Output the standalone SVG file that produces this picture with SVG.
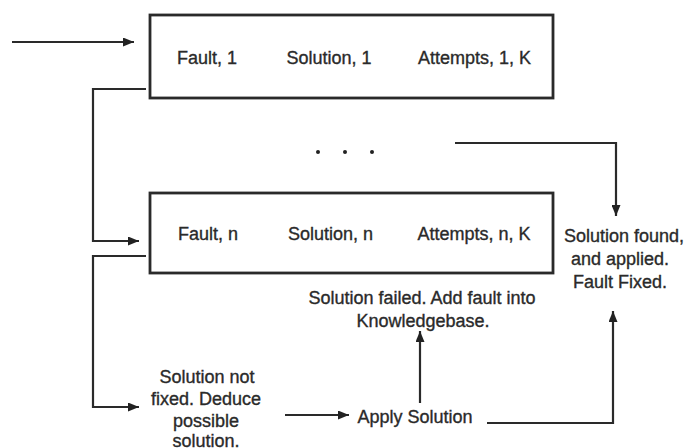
<svg xmlns="http://www.w3.org/2000/svg" width="688" height="448" viewBox="0 0 688 448">
  <style>
    .box { fill: #ffffff; stroke: #2a2a2a; stroke-width: 2.8; }
    .wire { fill: none; stroke: #2a2a2a; stroke-width: 2.2; }
    .lbl { font-family: "Liberation Sans", Arial, sans-serif; font-size: 18px; fill: #2a2a2a; stroke: #2a2a2a; stroke-width: 0.35; text-anchor: middle; }
    .dot { fill: #222222; }
  </style>
  <defs>
    <marker id="head" viewBox="0 0 11 9" refX="11" refY="4.5" markerWidth="11" markerHeight="9" markerUnits="userSpaceOnUse" orient="auto">
      <path d="M0,0 L11,4.5 L0,9 Z" fill="#222222"/>
    </marker>
  </defs>

  <!-- first record -->
  <g id="record-1">
    <rect class="box" x="150" y="15" width="403" height="83"/>
    <text class="lbl" x="207" y="63.5">Fault, 1</text>
    <text class="lbl" x="329" y="63.5">Solution, 1</text>
    <text class="lbl" x="474.5" y="63.5">Attempts, 1, K</text>
  </g>

  <!-- ellipsis between records -->
  <g id="ellipsis">
    <circle class="dot" cx="318" cy="152" r="2"/>
    <circle class="dot" cx="345" cy="152" r="2"/>
    <circle class="dot" cx="372" cy="152" r="2"/>
  </g>

  <!-- last record -->
  <g id="record-n">
    <rect class="box" x="150" y="193" width="403" height="80"/>
    <text class="lbl" x="208" y="239.5">Fault, n</text>
    <text class="lbl" x="330.5" y="239.5">Solution, n</text>
    <text class="lbl" x="474" y="239.5">Attempts, n, K</text>
  </g>

  <g id="fixed">
    <text class="lbl" x="624" y="241.5">Solution found,</text>
    <text class="lbl" x="620" y="264.5">and applied.</text>
    <text class="lbl" x="620" y="287.5">Fault Fixed.</text>
  </g>

  <g id="failed">
    <text class="lbl" x="422" y="303.5">Solution failed. Add fault into</text>
    <text class="lbl" x="423" y="326.5">Knowledgebase.</text>
  </g>

  <g id="deduce">
    <text class="lbl" x="207" y="383">Solution not</text>
    <text class="lbl" x="206" y="405">fixed. Deduce</text>
    <text class="lbl" x="206" y="427">possible</text>
    <text class="lbl" x="206" y="447">solution.</text>
  </g>

  <g id="apply">
    <text class="lbl" x="415" y="423">Apply Solution</text>
  </g>

  <!-- connectors -->
  <g id="connectors">
    <path class="wire" d="M12,42 H134" marker-end="url(#head)"/>
    <path class="wire" d="M146,89 H93 V241 H139" marker-end="url(#head)"/>
    <path class="wire" d="M146,256 H93 V407 H139" marker-end="url(#head)"/>
    <path class="wire" d="M455,143 H616 V216" marker-end="url(#head)"/>
    <path class="wire" d="M285,415 H349" marker-end="url(#head)"/>
    <path class="wire" d="M420,403 V331" marker-end="url(#head)"/>
    <path class="wire" d="M487,423 H613 V311" marker-end="url(#head)"/>
  </g>
</svg>
